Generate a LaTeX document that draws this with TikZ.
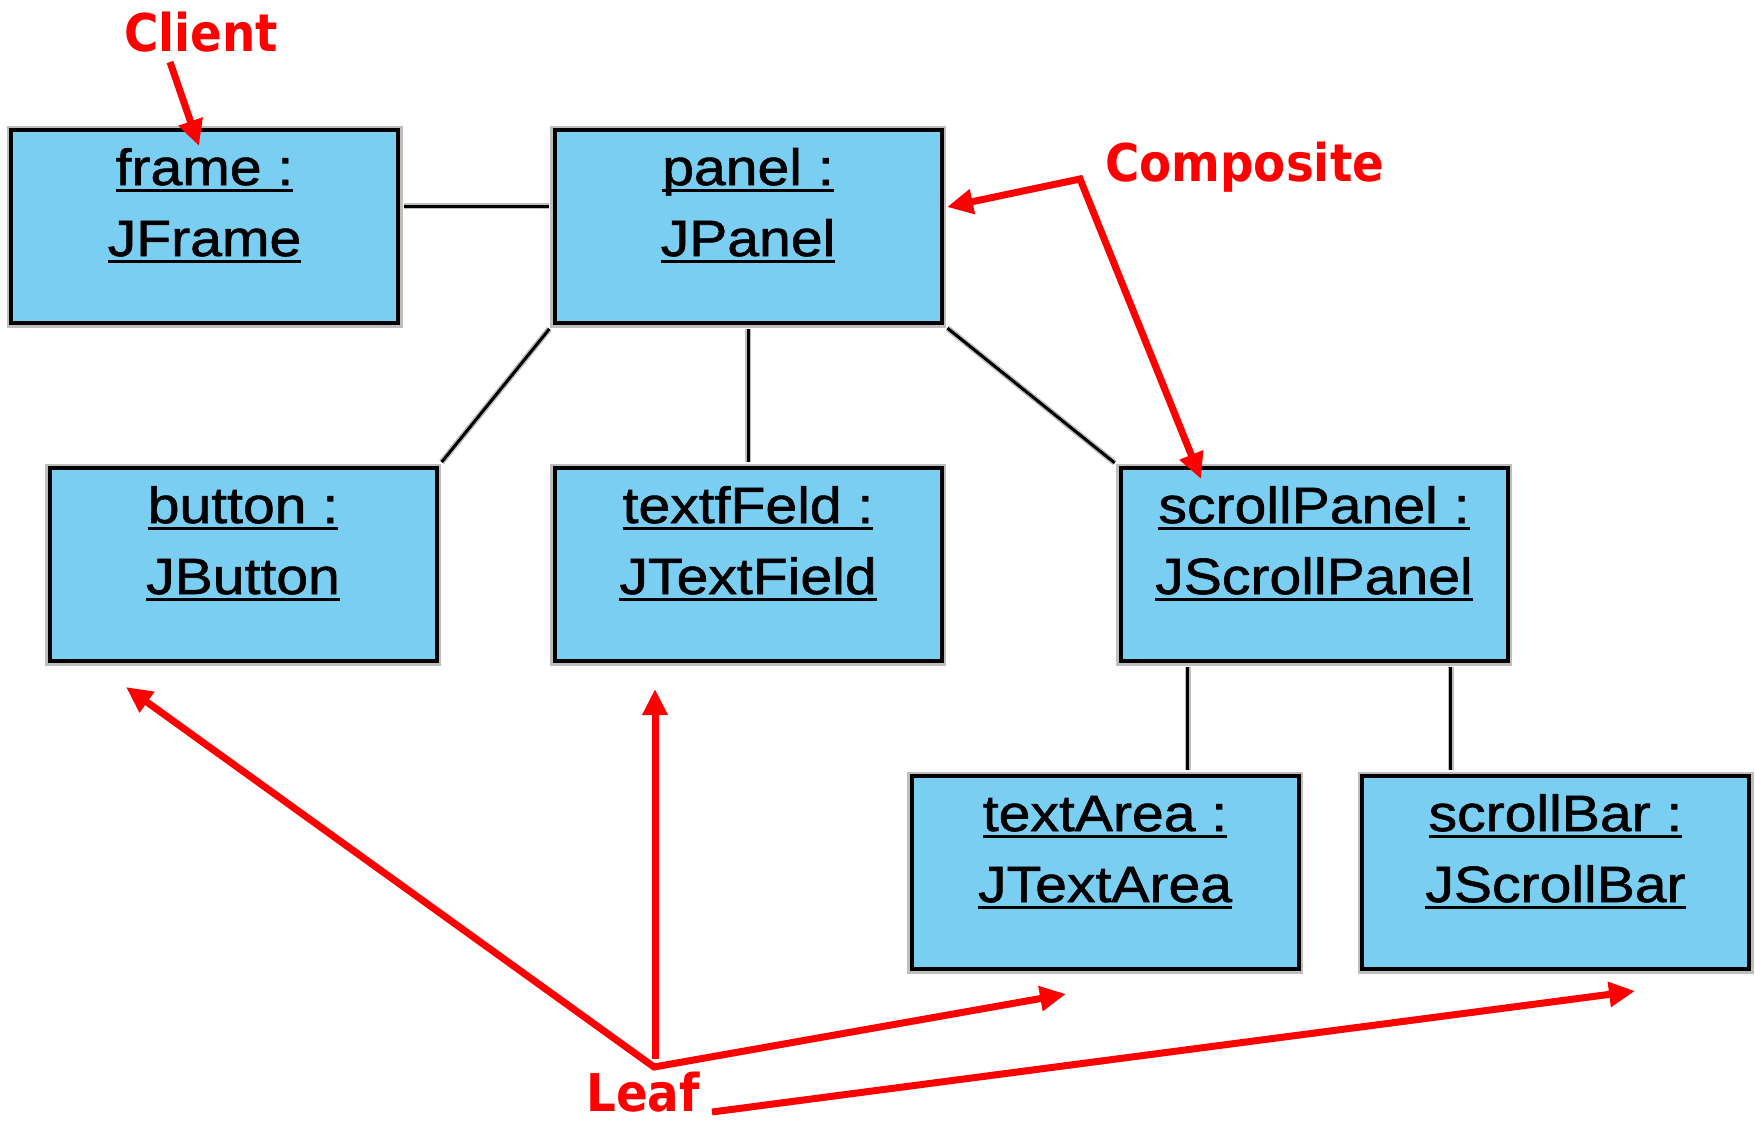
\documentclass[tikz,border=0pt]{standalone}
\usepackage{fontspec}
\setmainfont{Liberation Sans}[FakeStretch=1.12, FakeBold=1.2]
\newfontfamily\calloutfont{DejaVu Sans}[FakeStretch=0.9]
\usetikzlibrary{arrows.meta}
\definecolor{boxblue}{RGB}{122,206,242}
\definecolor{halo}{RGB}{190,190,190}
\definecolor{callred}{RGB}{255,0,0}
% underlined object name with a heavy rule
\newcommand\objname[1]{\sbox0{#1}\rlap{\rule[-7pt]{\wd0}{3.5pt}}\usebox0}
\begin{document}
\begin{tikzpicture}[x=1pt,y=-1pt,
  obj/.style={draw=black, line width=4pt, fill=boxblue, minimum width=387pt,
    minimum height=193pt, inner sep=0pt, preaction={draw=halo, line width=9pt}},
  objtxt/.style={font=\fontsize{51}{60}\selectfont, inner sep=0pt, anchor=base},
  link/.style={draw=black, line width=3pt, preaction={draw=halo, line width=6pt}},
  calltxt/.style={font=\calloutfont\bfseries\fontsize{52}{60}\selectfont,
    text=callred, inner sep=0pt, anchor=base west},
  callout/.style={draw=callred, line width=7pt, line join=miter,
    -{Triangle[length=26pt,width=24pt]}},
  dualcall/.style={draw=callred, line width=7pt, line join=miter,
    {Triangle[length=26pt,width=24pt]}-{Triangle[length=26pt,width=24pt]}}]

\useasboundingbox (0,0) rectangle (1755,1120);

% object boxes
\node[obj] (frame)  at (204.5,226.5) {};
\node[obj] (panel)  at (748,226.5) {};
\node[obj] (button) at (243,564.5) {};
\node[obj] (tfield) at (748,564.5) {};
\node[obj] (spanel) at (1314,564.5) {};
\node[obj] (tarea)  at (1105,872.5) {};
\node[obj] (sbar)   at (1555.5,872.5) {};

% object names
\node[objtxt] (frame-a)  at ([yshift=-57pt]frame.north)  {\objname{frame :}};
\node[objtxt] (frame-b)  at ([yshift=-128pt]frame.north) {\objname{JFrame}};
\node[objtxt] (panel-a)  at ([yshift=-57pt]panel.north)  {\objname{panel :}};
\node[objtxt] (panel-b)  at ([yshift=-128pt]panel.north) {\objname{JPanel}};
\node[objtxt] (button-a) at ([yshift=-57pt]button.north)  {\objname{button :}};
\node[objtxt] (button-b) at ([yshift=-128pt]button.north) {\objname{JButton}};
\node[objtxt] (tfield-a) at ([yshift=-57pt]tfield.north)  {\objname{textfFeld :}};
\node[objtxt] (tfield-b) at ([yshift=-128pt]tfield.north) {\objname{JTextField}};
\node[objtxt] (spanel-a) at ([yshift=-57pt]spanel.north)  {\objname{scrollPanel :}};
\node[objtxt] (spanel-b) at ([yshift=-128pt]spanel.north) {\objname{JScrollPanel}};
\node[objtxt] (tarea-a)  at ([yshift=-57pt]tarea.north)  {\objname{textArea :}};
\node[objtxt] (tarea-b)  at ([yshift=-128pt]tarea.north) {\objname{JTextArea}};
\node[objtxt] (sbar-a)   at ([yshift=-57pt]sbar.north)  {\objname{scrollBar :}};
\node[objtxt] (sbar-b)   at ([yshift=-128pt]sbar.north) {\objname{JScrollBar}};

% links between objects
\draw[link] ([yshift=20.5pt,xshift=4pt]frame.east) -- ([yshift=20.5pt,xshift=-4pt]panel.west);
\draw[link, shorten <=5pt, shorten >=5pt] (panel.south west) -- (button.north east);
\draw[link, shorten <=4pt, shorten >=4pt] (panel.south) -- (tfield.north);
\draw[link, shorten <=5pt, shorten >=5pt] (panel.south east) -- (spanel.north west);
\draw[link, shorten <=4pt, shorten >=4pt] ([xshift=69pt]spanel.south west) -- ([xshift=69pt]spanel.south west |- tarea.north);
\draw[link, shorten <=4pt, shorten >=4pt] ([xshift=332pt]spanel.south west) -- ([xshift=332pt]spanel.south west |- sbar.north);

% role labels
\node[calltxt] (client)    at (124,51)   {Client};
\node[calltxt] (composite) at (1105,181) {Composite};
\node[calltxt] (leaf)      at (586,1111) {Leaf};

% callout anchor points
\coordinate (clientS)   at (170,62);
\coordinate (clientT)   at (199,146);
\coordinate (compTa)    at (947,207);
\coordinate (compBend)  at (1080,179);
\coordinate (compTb)    at (1201,479);
\coordinate (leafJ)     at (654,1067);
\coordinate (leafV)     at (655,1059);
\coordinate (leafTbtn)  at (126,687);
\coordinate (leafTtf)   at (655,689);
\coordinate (leafTta)   at (1066,994);
\coordinate (leafS2)    at (712,1112);
\coordinate (leafTsb)   at (1635,991);

% callout arrows
\draw[callout] (clientS) -- (clientT);
\draw[dualcall] (compTa) -- (compBend) -- (compTb);
\draw[dualcall] (leafTbtn) -- (leafJ) -- (leafTta);
\draw[callout] (leafV) -- (leafTtf);
\draw[callout] (leafS2) -- (leafTsb);
\end{tikzpicture}
\end{document}
